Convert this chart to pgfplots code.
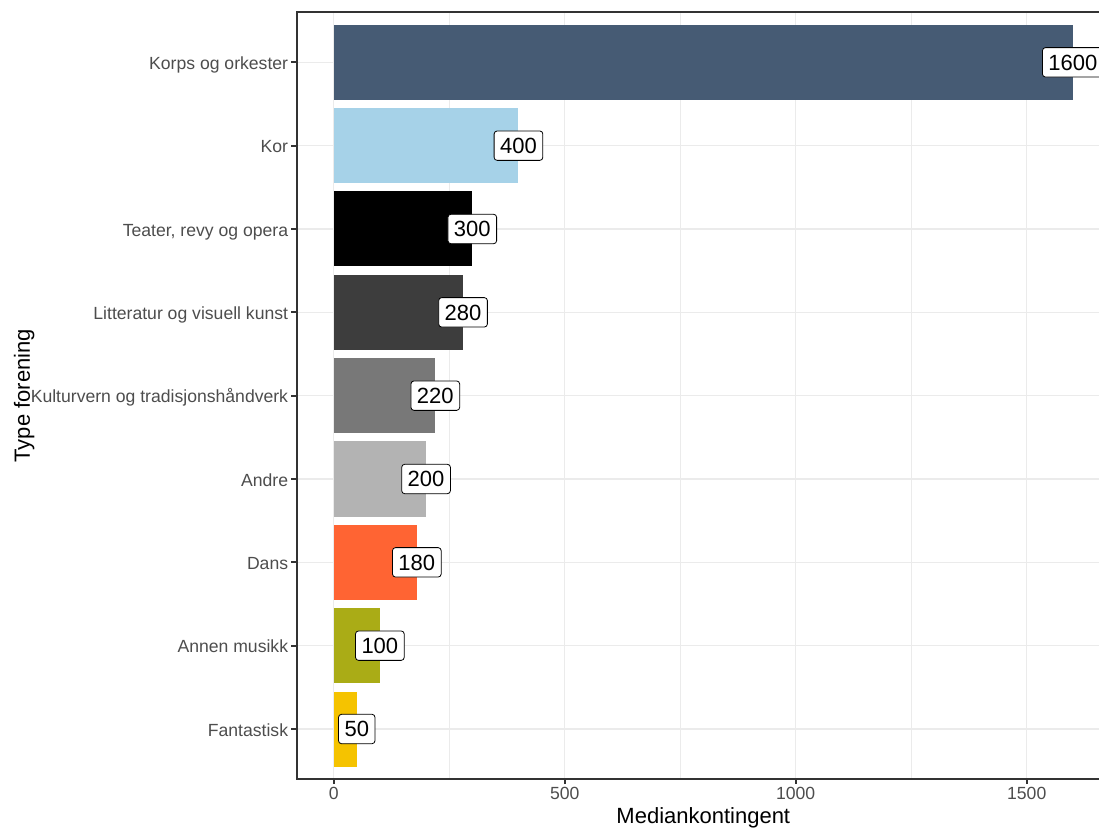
\documentclass[border=0pt]{standalone}
\usepackage{fontspec}
\setmainfont{Liberation Sans}
\usepackage{pgfplots}
\pgfplotsset{compat=1.18}
\definecolor{cKorps}{HTML}{465B74}
\definecolor{cKor}{HTML}{A6D2E8}
\definecolor{cTeater}{HTML}{000000}
\definecolor{cLitt}{HTML}{3D3D3D}
\definecolor{cKult}{HTML}{787878}
\definecolor{cAndre}{HTML}{B3B3B3}
\definecolor{cDans}{HTML}{FF6433}
\definecolor{cAnnen}{HTML}{AAAC16}
\definecolor{cFant}{HTML}{F5C300}
\definecolor{gridgray}{HTML}{EBEBEB}
\definecolor{axisgray}{HTML}{333333}
\definecolor{labgray}{HTML}{4D4D4D}
\begin{document}
\begin{tikzpicture}[x=1pt,y=1pt]
\begin{axis}[
  at={(148.35pt,24pt)}, anchor=south west,
  scale only axis, width=406.6pt, height=383.35pt,
  xmin=-80, xmax=1680, ymin=0.4, ymax=9.6,
  xbar, bar width=0.9, bar shift=0pt,
  clip=false,
  xtick={0,500,1000,1500}, minor xtick={250,750,1250},
  ytick={1,2,3,4,5,6,7,8,9},
  yticklabels={Fantastisk, Annen musikk, Dans, Andre, Kulturvern og tradisjonshåndverk, Litteratur og visuell kunst, {Teater, revy og opera}, Kor, Korps og orkester},
  xmajorgrids, ymajorgrids, xminorgrids,
  major grid style={color=gridgray, line width=0.55pt},
  minor grid style={color=gridgray, line width=0.3pt},
  axis line style={color=axisgray, line width=0.9pt},
  tick align=outside, tick pos=left,
  major tick length=2.6pt, minor tick length=0pt,
  every tick/.style={color=axisgray, line width=0.9pt},
  tick label style={font=\fontsize{8.8}{10}\selectfont, text=labgray},
  yticklabel style={inner sep=1.5pt, text height=0.72em, text depth=0pt},
  xticklabel style={inner sep=1.5pt},
  /pgf/number format/assume math mode=true,
  /pgf/number format/1000 sep={},
  xlabel={Mediankontingent}, ylabel={Type forening},
  label style={font=\fontsize{11}{13}\selectfont, text=black},
  xlabel style={at={(axis description cs:0.5,-0.0583)}, anchor=base},
  ylabel style={at={(axis description cs:-0.328,0.5)}, anchor=base},
  point meta=x,
  nodes near coords,
  every node near coord/.append style={anchor=center, draw=black, fill=white,
    rounded corners=1.5pt, line width=0.4pt, inner xsep=3pt, inner ysep=3.4pt,
    text height=7.9pt, text depth=0pt, font=\fontsize{11}{13}\selectfont, text=black},
]
\addplot[fill=cFant, draw=none] coordinates {(50,1)};
\addplot[fill=cAnnen, draw=none] coordinates {(100,2)};
\addplot[fill=cDans, draw=none] coordinates {(180,3)};
\addplot[fill=cAndre, draw=none] coordinates {(200,4)};
\addplot[fill=cKult, draw=none] coordinates {(220,5)};
\addplot[fill=cLitt, draw=none] coordinates {(280,6)};
\addplot[fill=cTeater, draw=none] coordinates {(300,7)};
\addplot[fill=cKor, draw=none] coordinates {(400,8)};
\addplot[fill=cKorps, draw=none] coordinates {(1600,9)};
\end{axis}
\pgfresetboundingbox
\useasboundingbox (0,0) rectangle (549.5,413.5);
\end{tikzpicture}
\end{document}
